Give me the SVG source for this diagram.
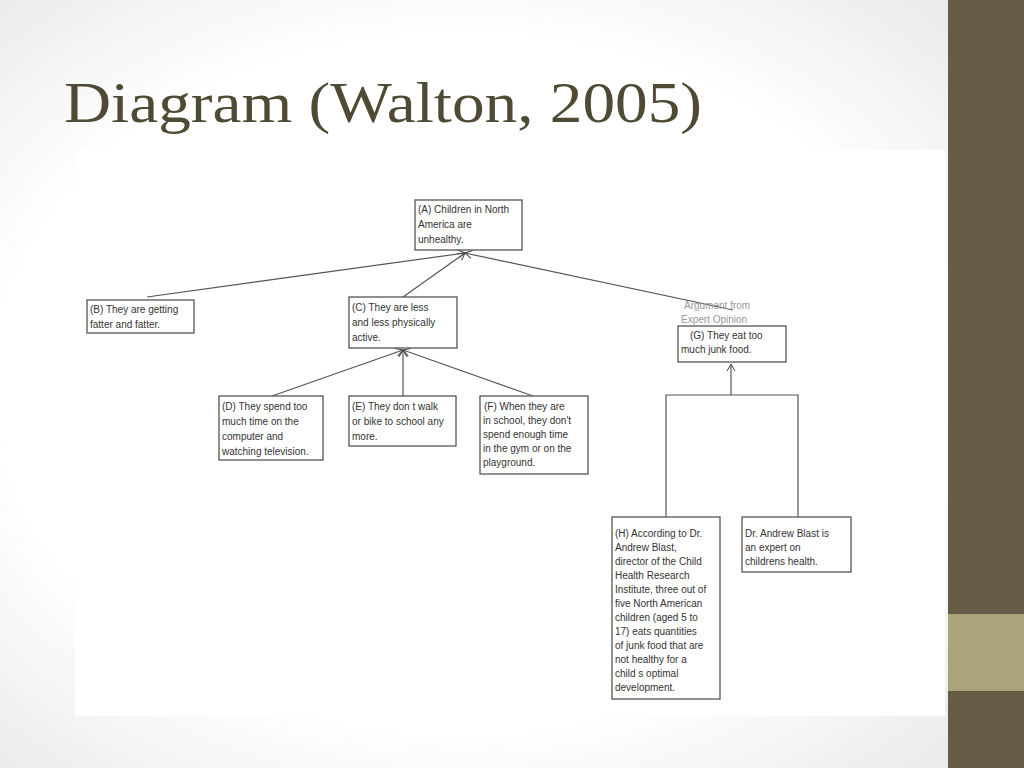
<svg xmlns="http://www.w3.org/2000/svg" width="1024" height="768" viewBox="0 0 1024 768">
<defs>
<radialGradient id="bg" cx="0.45" cy="0.5" r="0.75"><stop offset="0.6" stop-color="#ffffff"/><stop offset="1" stop-color="#e4e4e4"/></radialGradient>
<marker id="ah" markerWidth="10" markerHeight="10" refX="8" refY="5" orient="auto" markerUnits="userSpaceOnUse"><path d="M1,1 L8,5 L1,9" fill="none" stroke="#444" stroke-width="1"/></marker>
</defs>
<style>
.box{fill:#fff;stroke:#555;stroke-width:1.3}
.t{font-family:"Liberation Sans",Arial,sans-serif;font-size:10px;fill:#333}
.g{font-family:"Liberation Sans",Arial,sans-serif;font-size:10px;fill:#999}
.c{stroke:#555;stroke-width:1.2;fill:none}
</style>
<rect width="1024" height="768" fill="url(#bg)"/>
<rect x="75" y="150" width="870" height="566" fill="#fff"/>
<rect x="948" y="0" width="76" height="768" fill="#665c45"/>
<rect x="948" y="614" width="76" height="77" fill="#aaa47a"/>
<text x="64" y="122" font-family="'Liberation Serif','DejaVu Serif',serif" font-size="58" fill="#4e4a33" textLength="638" lengthAdjust="spacingAndGlyphs">Diagram (Walton, 2005)</text>
<g id="connectors">
<line class="c" x1="147" y1="297" x2="465" y2="253" marker-end="url(#ah)"/>
<line class="c" x1="403" y1="297" x2="465" y2="253" marker-end="url(#ah)"/>
<line class="c" x1="733" y1="310" x2="465" y2="253" marker-end="url(#ah)"/>
<line class="c" x1="272" y1="396" x2="403" y2="350" marker-end="url(#ah)"/>
<line class="c" x1="403" y1="396" x2="403" y2="350" marker-end="url(#ah)"/>
<line class="c" x1="533" y1="396" x2="403" y2="350" marker-end="url(#ah)"/>
<line class="c" x1="731" y1="395" x2="731" y2="364" marker-end="url(#ah)"/>
<polyline class="c" points="666,517 666,395 798,395 798,517"/>
</g>
<g id="A"><rect class="box" x="415" y="200" width="107" height="50"/><text class="t" x="418" y="213">(A) Children in North</text><text class="t" x="418" y="228">America are</text><text class="t" x="418" y="243">unhealthy.</text></g>
<g id="B"><rect class="box" x="87" y="300" width="107" height="33"/><text class="t" x="90" y="313">(B) They are getting</text><text class="t" x="90" y="328">fatter and fatter.</text></g>
<g id="C"><rect class="box" x="349" y="297" width="108" height="51"/><text class="t" x="352" y="311">(C) They are less</text><text class="t" x="352" y="326">and less physically</text><text class="t" x="352" y="341">active.</text></g>
<g id="D"><rect class="box" x="219" y="396" width="104" height="64"/><text class="t" x="222" y="410">(D) They spend too</text><text class="t" x="222" y="425">much time on the</text><text class="t" x="222" y="440">computer and</text><text class="t" x="222" y="455">watching television.</text></g>
<g id="E"><rect class="box" x="349" y="396" width="107" height="50"/><text class="t" x="352" y="410">(E) They don t walk</text><text class="t" x="352" y="425">or bike to school any</text><text class="t" x="352" y="440">more.</text></g>
<g id="F"><rect class="box" x="480" y="396" width="108" height="78"/><text class="t" x="484" y="410">(F) When they are</text><text class="t" x="483" y="424">in school, they don't</text><text class="t" x="483" y="438">spend enough time</text><text class="t" x="483" y="452">in the gym or on the</text><text class="t" x="483" y="466">playground.</text></g>
<g id="G"><text class="g" x="684" y="309">Argument from</text><text class="g" x="681" y="323">Expert Opinion</text><rect class="box" x="678" y="326" width="108" height="36"/><text class="t" x="690" y="339">(G) They eat too</text><text class="t" x="681" y="353">much junk food.</text></g>
<g id="H"><rect class="box" x="612" y="517" width="108" height="182"/>
<text class="t" x="615" y="537">(H) According to Dr.</text><text class="t" x="615" y="551">Andrew Blast,</text><text class="t" x="615" y="565">director of the Child</text><text class="t" x="615" y="579">Health Research</text><text class="t" x="615" y="593">Institute, three out of</text><text class="t" x="615" y="607">five North American</text><text class="t" x="615" y="621">children (aged 5 to</text><text class="t" x="615" y="635">17) eats quantities</text><text class="t" x="615" y="649">of junk food that are</text><text class="t" x="615" y="663">not healthy for a</text><text class="t" x="615" y="677">child s optimal</text><text class="t" x="615" y="691">development.</text></g>
<g id="I"><rect class="box" x="742" y="517" width="109" height="55"/><text class="t" x="745" y="537">Dr. Andrew Blast is</text><text class="t" x="745" y="551">an expert on</text><text class="t" x="745" y="565">childrens health.</text></g>
</svg>
